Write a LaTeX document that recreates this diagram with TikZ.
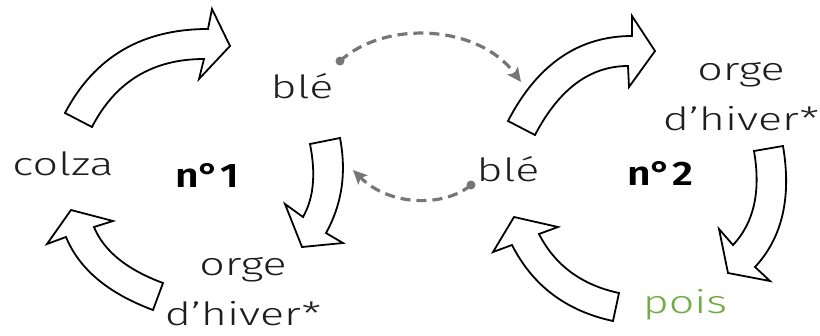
\documentclass[tikz,border=0pt]{standalone}
\usepackage{fontspec}
\setmainfont{Fira Sans}[UprightFont=* Light, BoldFont=* SemiBold]
\usetikzlibrary{arrows.meta,calc}
\definecolor{poisgreen}{HTML}{70AD47}
\definecolor{dashgray}{HTML}{767676}
\definecolor{ink}{HTML}{1E1E1E}
\newcommand\hwtext[1]{\scalebox{1.4}[1]{#1}}
\newcommand\hwbold[1]{\scalebox{1.2}[1]{\bfseries #1}}
% quadratic segment from current point #1 with control #2 to #3
\newcommand\qseg[3]{.. controls ($(#1)!0.6667!(#2)$) and ($(#3)!0.6667!(#2)$) .. (#3)}
\begin{document}
\begin{tikzpicture}[x=1pt,y=-1pt,
  blockarrow/.style={draw=black, line width=1.8pt, fill=white, line join=miter, miter limit=10},
  lbl/.style={font=\fontsize{32}{50}\selectfont, text=ink, inner sep=0pt, align=center},
  numlbl/.style={font=\fontsize{34}{40}\selectfont, text=black, inner sep=0pt},
  dashlink/.style={draw=dashgray, line width=3.2pt, dash pattern=on 10pt off 6pt, -{Stealth[length=14pt,width=13pt,inset=3pt]}},
  dotend/.style={circle, fill=dashgray, inner sep=0pt, minimum size=9pt}]
\useasboundingbox (0,0) rectangle (820,335);

% labels
\node[lbl, anchor=base] (colza) at (63,175) {\hwtext{colza}};
\node[lbl, anchor=base] (ble1) at (302,98) {\hwtext{blé}};
\node[lbl, anchor=base] (ble2) at (508,181) {\hwtext{blé}};
\node[lbl] (orge1) at (243,292) {\hwtext{orge}\\\hwtext{d’hiver*}};
\node[lbl] (orge2) at (741,97) {\hwtext{orge}\\\hwtext{d’hiver*}};
\node[lbl, anchor=base, text=poisgreen] (pois) at (685,313) {\hwtext{pois}};
\node[numlbl, anchor=base] (n1) at (207,187) {\hwbold{n°1}};
\node[numlbl, anchor=base] (n2) at (660,185) {\hwbold{n°2}};

% block arrows, cycle 1
\draw[blockarrow] (65,113) \qseg{65,113}{109,29}{208,29} -- (212,9) -- (230,46) -- (199,79) -- (204,59) \qseg{204,59}{127,59}{92,127} -- cycle;
\draw[blockarrow] (340,138) \qseg{340,138}{350,190}{326,233} -- (343,243) -- (302,247) -- (285,204) -- (303,217) \qseg{303,217}{319,189}{310,144} -- cycle;
\draw[blockarrow] (153,310) \qseg{153,310}{85.7,285}{66,237} -- (47,244) -- (71,210) -- (113,221) -- (94,227) \qseg{94,227}{108.7,262.9}{163,283} -- cycle;

% block arrows, cycle 2
\draw[blockarrow] (508,121) \qseg{508,121}{552,36}{632,36} -- (632,16) -- (655,51) -- (629,87) -- (628,66) \qseg{628,66}{571,66}{535,135} -- cycle;
\draw[blockarrow] (783,146) \qseg{783,146}{796,223}{755,267} -- (770,281) -- (728,273) -- (719,229) -- (733,245) \qseg{733,245}{764.5,211.6}{754,151} -- cycle;
\draw[blockarrow] (613,321) \qseg{613,321}{543,306}{512,245} -- (493,252) -- (514,217) -- (558,227) -- (539,234) \qseg{539,234}{563,281}{619,293} -- cycle;

% dashed links
\node[dotend] (d1s) at (340,61) {};
\coordinate (d1e) at (521,82);
\node[dotend] (d2s) at (471,185) {};
\coordinate (d2e) at (353,170);
\draw[dashlink] (d1s.center) .. controls (385,20) and (478,24) .. (d1e);
\draw[dashlink] (d2s.center) .. controls (445,207) and (390,207) .. (d2e);
\end{tikzpicture}
\end{document}
